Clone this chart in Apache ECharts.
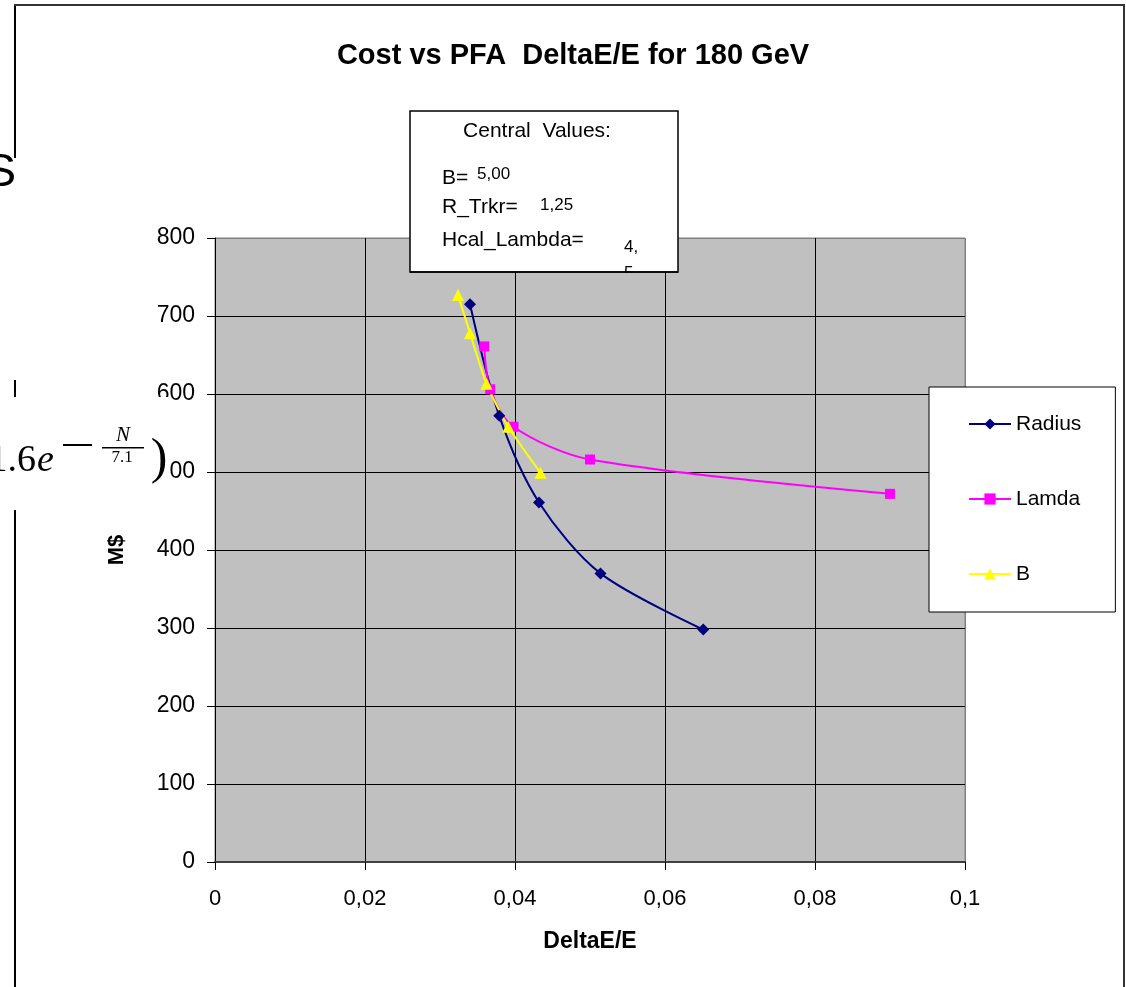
<!DOCTYPE html>
<html>
<head>
<meta charset="utf-8">
<script src="https://cdn.jsdelivr.net/npm/echarts@6/dist/echarts.min.js"></script>
<style>html,body{margin:0;padding:0;background:#fff;}#c{width:1126px;height:987px;}</style>
</head>
<body>
<div id="c"></div>
<script>
// ---- data ----
const titleText = 'Cost vs PFA  DeltaE/E for 180 GeV';
const xTicks = [0, 0.02, 0.04, 0.06, 0.08, 0.1];
const yTicks = [0, 100, 200, 300, 400, 500, 600, 700, 800];
const radiusX = [0.0340, 0.0379, 0.0432, 0.0514, 0.0651];
const radiusY = [715, 572, 461, 370, 298];
const lamdaX  = [0.0359, 0.0367, 0.0398, 0.0500, 0.0900];
const lamdaY  = [661, 606, 558, 516, 472];
const bX      = [0.0324, 0.0340, 0.0362, 0.0391, 0.0434];
const bY      = [727, 678, 613, 558, 499];
const seriesNames = ['Radius', 'Lamda', 'B'];
const centralLabels = ['B=', 'R_Trkr=', 'Hcal_Lambda='];
const centralValues = ['5,00', '1,25', '4,\n5'];

const FONT = '"Liberation Sans", Arial, sans-serif';
const SERIF = '"Liberation Serif", "DejaVu Serif", serif';
const zip = (xs, ys) => xs.map((x, i) => [x, ys[i]]);
const fmt = v => String(+(+v).toFixed(4)).replace('.', ',');

const chart = echarts.init(document.getElementById('c'), null, {renderer: 'canvas'});
const ySplitColors = yTicks.map((t, i) => i === yTicks.length - 1 ? '#808080' : '#000');
const xSplitColors = xTicks.map((t, i) => i === xTicks.length - 1 ? '#808080' : '#000');

chart.setOption({
  animation: false,
  backgroundColor: '#fff',
  title: {
    text: titleText, left: 568, top: 36, textAlign: 'center',
    textStyle: {fontFamily: FONT, fontSize: 29, fontWeight: 'bold', color: '#000'}
  },
  grid: {
    left: 215, top: 238, width: 750, height: 624,
    show: true, backgroundColor: '#C0C0C0', borderColor: '#808080', borderWidth: 1
  },
  legend: {
    orient: 'vertical', left: 929, top: 387,
    padding: [25, 34, 26, 39],
    itemWidth: 42, itemHeight: 14, itemGap: 51,
    backgroundColor: '#fff', borderColor: '#000', borderWidth: 1,
    textStyle: {fontFamily: FONT, fontSize: 21, color: '#000', lineHeight: 24},
    data: seriesNames
  },
  xAxis: {
    type: 'value', min: xTicks[0], max: xTicks[xTicks.length - 1], interval: 0.02,
    name: 'DeltaE/E', nameLocation: 'middle', nameGap: 68,
    nameTextStyle: {fontFamily: FONT, fontSize: 23, fontWeight: 'bold', color: '#000'},
    axisLine: {show: true, onZero: false, lineStyle: {color: '#404040', width: 2}},
    axisTick: {show: true, inside: false, length: 8, lineStyle: {color: '#000'}},
    axisLabel: {margin: 26, fontFamily: FONT, fontSize: 22, color: '#000', formatter: fmt},
    splitLine: {show: true, lineStyle: {color: xSplitColors, width: 1}}
  },
  yAxis: {
    type: 'value', min: yTicks[0], max: yTicks[yTicks.length - 1], interval: 100,
    name: 'M$', nameLocation: 'middle', nameGap: 87, nameRotate: 90,
    nameTextStyle: {fontFamily: FONT, fontSize: 22, fontWeight: 'bold', color: '#000'},
    axisLine: {show: true, lineStyle: {color: '#000', width: 1}},
    axisTick: {show: true, inside: false, length: 8, lineStyle: {color: '#000'}},
    axisLabel: {margin: 20, fontFamily: FONT, fontSize: 23, color: '#000'},
    splitLine: {show: true, lineStyle: {color: ySplitColors, width: 1}}
  },
  series: [
    {
      name: seriesNames[0], type: 'line', data: zip(radiusX, radiusY), smooth: 0.3,
      symbol: 'diamond', symbolSize: 12,
      itemStyle: {color: '#000080'}, lineStyle: {color: '#000080', width: 2}
    },
    {
      name: seriesNames[1], type: 'line', data: zip(lamdaX, lamdaY), smooth: 0.3,
      symbol: 'rect', symbolSize: 10,
      itemStyle: {color: '#FF00FF'}, lineStyle: {color: '#FF00FF', width: 2}
    },
    {
      name: seriesNames[2], type: 'line', data: zip(bX, bY), smooth: 0.2,
      symbol: 'triangle', symbolSize: 12,
      itemStyle: {color: '#FFFF00'}, lineStyle: {color: '#FFFF00', width: 2}
    }
  ],
  graphic: [
    // outer frame
    {type: 'line', z: 100, shape: {x1: 15, y1: 5, x2: 15, y2: 987}, style: {stroke: '#000', lineWidth: 2}},
    {type: 'line', z: 100, shape: {x1: 14, y1: 5, x2: 1125, y2: 5}, style: {stroke: '#333', lineWidth: 2}},
    {type: 'line', z: 100, shape: {x1: 1124, y1: 5, x2: 1124, y2: 987}, style: {stroke: '#333', lineWidth: 2}},
    // pasted fragments on the left
    {type: 'rect', z: 101, shape: {x: 0, y: 158, width: 21, height: 222}, style: {fill: '#fff'}},
    {type: 'text', z: 102, style: {x: 16, y: 197, text: 'S', textAlign: 'right', textVerticalAlign: 'bottom',
      font: '47px ' + FONT, fill: '#000'}},
    {type: 'rect', z: 101, shape: {x: 0, y: 397, width: 170, height: 113}, style: {fill: '#fff'}},
    {type: 'text', z: 102, style: {x: 36, y: 480, text: '1.6', textAlign: 'right', textVerticalAlign: 'bottom',
      font: '38px ' + SERIF, fill: '#000'}},
    {type: 'text', z: 102, style: {x: 37, y: 480, text: 'e', textAlign: 'left', textVerticalAlign: 'bottom',
      font: 'italic 38px ' + SERIF, fill: '#000'}},
    {type: 'rect', z: 102, shape: {x: 63, y: 444, width: 29, height: 2}, style: {fill: '#000'}},
    {type: 'text', z: 102, style: {x: 123, y: 446, text: 'N', textAlign: 'center', textVerticalAlign: 'bottom',
      font: 'italic 21px ' + SERIF, fill: '#000'}},
    {type: 'rect', z: 102, shape: {x: 102, y: 447, width: 42, height: 1.5}, style: {fill: '#000'}},
    {type: 'text', z: 102, style: {x: 122, y: 449, text: '7.1', textAlign: 'center', textVerticalAlign: 'top',
      font: '17px ' + SERIF, fill: '#000'}},
    {type: 'text', z: 102, style: {x: 159, y: 460, text: ')', textAlign: 'center', textVerticalAlign: 'middle',
      font: '50px ' + SERIF, fill: '#000'}},
    // central values box
    {type: 'rect', z: 110, shape: {x: 410, y: 111, width: 268, height: 161},
      style: {fill: '#fff', stroke: '#000', lineWidth: 1.5}},
    {type: 'text', z: 111, style: {x: 537, y: 131, text: 'Central  Values:', textAlign: 'center', textVerticalAlign: 'middle',
      font: '21px ' + FONT, fill: '#000'}},
    {type: 'text', z: 111, style: {x: 442, y: 178, text: centralLabels[0], textVerticalAlign: 'middle', font: '21px ' + FONT, fill: '#000'}},
    {type: 'text', z: 111, style: {x: 442, y: 207, text: centralLabels[1], textVerticalAlign: 'middle', font: '21px ' + FONT, fill: '#000'}},
    {type: 'text', z: 111, style: {x: 442, y: 240, text: centralLabels[2], textVerticalAlign: 'middle', font: '21px ' + FONT, fill: '#000'}},
    {type: 'text', z: 111, style: {x: 477, y: 174, text: centralValues[0], textVerticalAlign: 'middle', font: '17px ' + FONT, fill: '#000'}},
    {type: 'text', z: 111, style: {x: 540, y: 205, text: centralValues[1], textVerticalAlign: 'middle', font: '17px ' + FONT, fill: '#000'}},
    {type: 'text', z: 111, style: {x: 624, y: 234, text: centralValues[2], textVerticalAlign: 'top', font: '17px ' + FONT,
      lineHeight: 26, fill: '#000'}},
    {type: 'rect', z: 112, shape: {x: 618, y: 273, width: 30, height: 14}, style: {fill: '#C0C0C0'}},
    {type: 'rect', z: 113, shape: {x: 410, y: 271.25, width: 268, height: 1.5}, style: {fill: '#000'}}
  ]
});
</script>
</body>
</html>
